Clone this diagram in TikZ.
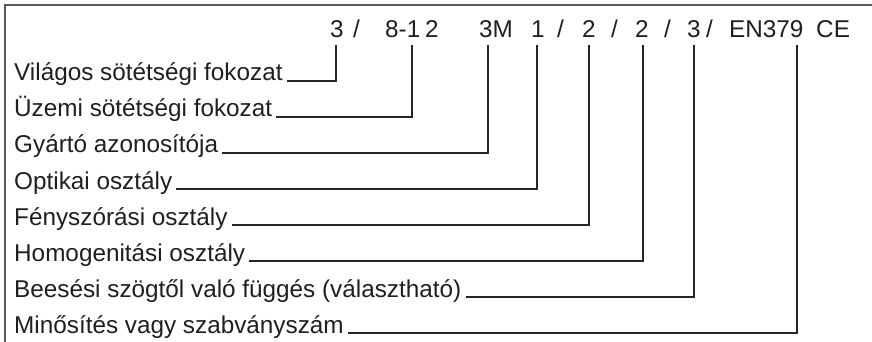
\documentclass[tikz,border=0pt]{standalone}
\usepackage{fontspec}
\setmainfont{Liberation Sans}
\begin{document}
\begin{tikzpicture}[x=1pt,y=-1pt,
  lab/.style={anchor=base west,inner sep=0pt,font=\fontsize{24.3}{28}\selectfont,text=black!88},
  code/.style={anchor=base west,inner sep=0pt,font=\fontsize{24.3}{28}\selectfont,text=black!88},
  lead/.style={draw=black!85,line width=1.1pt},
  frame/.style={draw=black!65,line width=1.4pt}]
\useasboundingbox (0,0) rectangle (872,342);
% frame
\draw[frame] (5,342) -- (5,5) -- (872,5);
% top code pieces
\node[code] (t3)   at (330,38) {3};
\node[code] (s1)   at (353,38) {/};
\node[code] (t81)  at (385,38) {8-1};
\node[code] (t12)  at (425,38) {2};
\node[code] (t3m)  at (479,38) {3M};
\node[code] (t1)   at (531,38) {1};
\node[code] (s2)   at (557,38) {/};
\node[code] (t2a)  at (582,38) {2};
\node[code] (s3)   at (611,38) {/};
\node[code] (t2b)  at (635,38) {2};
\node[code] (s4)   at (664,38) {/};
\node[code] (t3b)  at (687,38) {3};
\node[code] (s5)   at (706,38) {/};
\node[code] (ten)  at (729,38) {EN379};
\node[code] (tce)  at (816,38) {CE};
% top ends of the leaders
\coordinate (c1) at (336,45);
\coordinate (c2) at (412,45);
\coordinate (c3) at (488,45);
\coordinate (c4) at (537,45);
\coordinate (c5) at (589,45);
\coordinate (c6) at (643,45);
\coordinate (c7) at (694,45);
\coordinate (c8) at (797,45);
% labels
\node[lab] (l1) at (14,81)  {Világos sötétségi fokozat};
\node[lab] (l2) at (14,117) {Üzemi sötétségi fokozat};
\node[lab] (l3) at (14,153) {Gyártó azonosítója};
\node[lab] (l4) at (14,189) {Optikai osztály};
\node[lab] (l5) at (14,225) {Fényszórási osztály};
\node[lab] (l6) at (14,261) {Homogenitási osztály};
\node[lab] (l7) at (14,297) {Beesési szögtől való függés (választható)};
\node[lab] (l8) at (14,333) {Minősítés vagy szabványszám};
% leaders
\foreach \i in {1,...,8}{
  \draw[lead] ([xshift=4pt]l\i.base east) -| (c\i);
}
\end{tikzpicture}
\end{document}
